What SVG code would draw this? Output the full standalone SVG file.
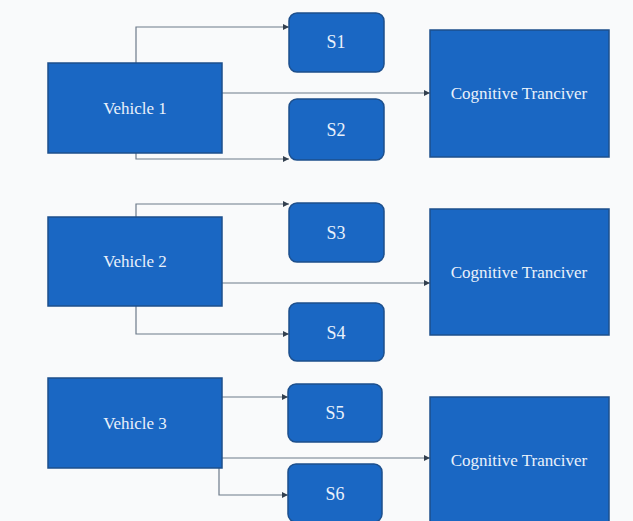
<svg xmlns="http://www.w3.org/2000/svg" width="633" height="521" viewBox="0 0 633 521">
<style>
.box{fill:#1a67c3;stroke:#1d4f8c;stroke-width:1.5}
.lbl{font-family:"Liberation Serif",serif;font-size:17px;fill:#e9f1fb;text-anchor:middle;dominant-baseline:central}
.s{font-size:18px}
.con{fill:none;stroke:#6d7b8a;stroke-width:1.2}
</style>
<defs>
<marker id="ah" viewBox="0 0 10 10" refX="10" refY="5" markerWidth="6" markerHeight="6" orient="auto" markerUnits="userSpaceOnUse"><path d="M0,0 L10,5 L0,10 z" fill="#33404f"/></marker>
</defs>
<rect width="633" height="521" fill="#f9fafb"/>
<g id="connectors">
<path class="con" d="M136,63 V27 H289" marker-end="url(#ah)"/>
<path class="con" d="M136,153 V159 H289" marker-end="url(#ah)"/>
<path class="con" d="M222,93 H430" marker-end="url(#ah)"/>
<path class="con" d="M136,217 V204 H289" marker-end="url(#ah)"/>
<path class="con" d="M136,306 V334 H289" marker-end="url(#ah)"/>
<path class="con" d="M222,283 H430" marker-end="url(#ah)"/>
<path class="con" d="M222,397 H288" marker-end="url(#ah)"/>
<path class="con" d="M219,468 V495 H288" marker-end="url(#ah)"/>
<path class="con" d="M222,458 H430" marker-end="url(#ah)"/>
</g>
<g id="vehicle1"><rect class="box" x="48" y="63" width="174" height="90"/><text class="lbl" x="135" y="108">Vehicle 1</text></g>
<g id="vehicle2"><rect class="box" x="48" y="217" width="174" height="89"/><text class="lbl" x="135" y="261">Vehicle 2</text></g>
<g id="vehicle3"><rect class="box" x="48" y="378" width="174" height="90"/><text class="lbl" x="135" y="423">Vehicle 3</text></g>
<g id="s1"><rect class="box" x="289" y="13" width="95" height="59" rx="8"/><text class="lbl s" x="336" y="42">S1</text></g>
<g id="s2"><rect class="box" x="289" y="99" width="95" height="61" rx="8"/><text class="lbl s" x="336" y="130">S2</text></g>
<g id="s3"><rect class="box" x="289" y="203" width="95" height="59" rx="8"/><text class="lbl s" x="336" y="233">S3</text></g>
<g id="s4"><rect class="box" x="289" y="303" width="95" height="58" rx="8"/><text class="lbl s" x="336" y="333">S4</text></g>
<g id="s5"><rect class="box" x="288" y="384" width="94" height="58" rx="8"/><text class="lbl s" x="335" y="413">S5</text></g>
<g id="s6"><rect class="box" x="288" y="464" width="94" height="58" rx="8"/><text class="lbl s" x="335" y="494">S6</text></g>
<g id="ct1"><rect class="box" x="430" y="30" width="179" height="127"/><text class="lbl" x="519" y="93">Cognitive Tranciver</text></g>
<g id="ct2"><rect class="box" x="430" y="209" width="179" height="126"/><text class="lbl" x="519" y="272">Cognitive Tranciver</text></g>
<g id="ct3"><rect class="box" x="430" y="397" width="179" height="126"/><text class="lbl" x="519" y="460">Cognitive Tranciver</text></g>
</svg>
